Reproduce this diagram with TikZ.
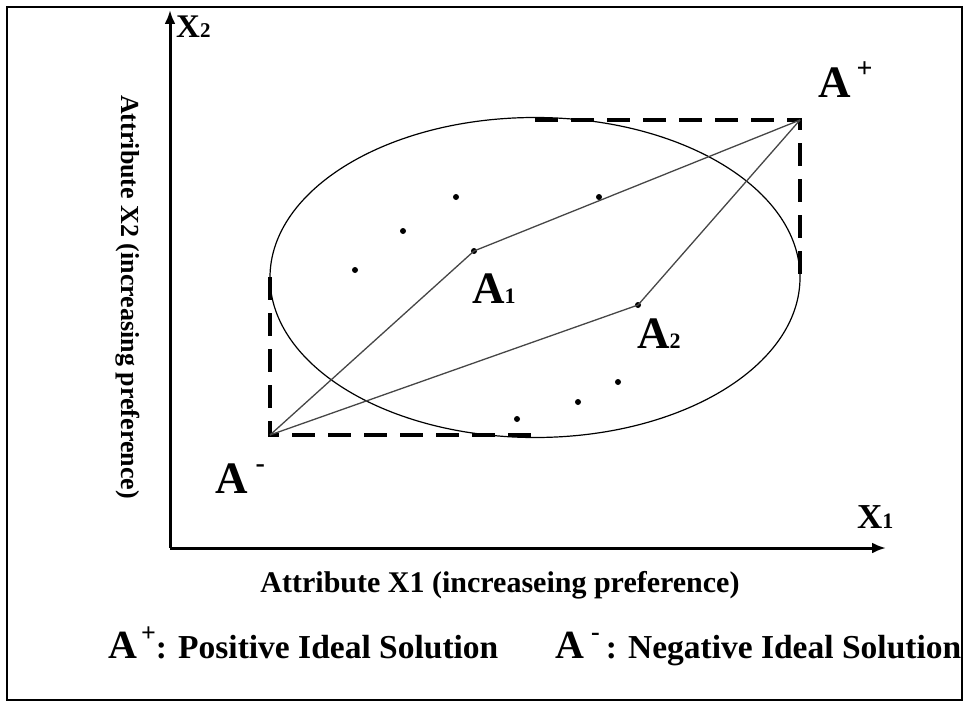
\documentclass[tikz,border=0pt]{standalone}
\usepackage{fontspec}
\setmainfont{Liberation Serif}
\usetikzlibrary{arrows.meta,positioning}

\begin{document}
\begin{tikzpicture}[x=1pt,y=-1pt,
    axis/.style={line width=3pt,-{Latex[length=14pt,width=11pt]}},
    frontier/.style={line width=4pt,dash pattern=on 23pt off 13pt,line join=miter},
    link/.style={gray!55!black,line width=1.3pt},
    alt/.style={circle,fill,inner sep=0pt,minimum size=6pt},
    biglab/.style={font=\fontsize{45}{45}\selectfont\bfseries,inner sep=0pt}]
  \useasboundingbox (0,0) rectangle (966,706);
  % Frame
  \draw[line width=1.5pt] (7,7) rectangle (962,700);
  % Axes
  \coordinate (origin) at (170,548);
  \coordinate (xend) at (886,548);
  \coordinate (yend) at (170,10);
  \draw[axis] (origin) -- (xend);
  \draw[axis] (origin) -- (yend);
  \node[anchor=base west,inner sep=0pt,font=\fontsize{35}{35}\selectfont\bfseries] (xlab) at (857,528) {X{\fontsize{22}{22}\selectfont 1}};
  \node[anchor=base west,inner sep=0pt,font=\fontsize{33}{33}\selectfont\bfseries] (ylab) at (176,38) {X{\fontsize{21}{21}\selectfont 2}};
  \node[anchor=base,inner sep=0pt,font=\fontsize{30}{30}\selectfont\bfseries] (xtitle) at (500,592) {Attribute X1 (increaseing preference)};
  \node[rotate=-90,inner sep=0pt,font=\fontsize{26}{26}\selectfont\bfseries] (ytitle) at (128,297) {Attribute X2 (increasing preference)};
  % Ideal points and alternatives
  \coordinate (Aminus) at (270,435);
  \coordinate (Aplus) at (800,120);
  \node[alt] (a1) at (474,251) {};
  \node[alt] (a2) at (638,305) {};
  % Ellipse of alternatives
  \draw[line width=1.2pt] (535,277.5) ellipse [x radius=265pt, y radius=160pt];
  % Dashed bounding corners
  \draw[frontier] (270,277) -- (Aminus) -- (535,435);
  \draw[frontier] (535,120) -- (Aplus) -- (800,277);
  % Distances
  \draw[link] (Aminus) -- (a1.center) -- (Aplus);
  \draw[link] (Aminus) -- (a2.center) -- (Aplus);
  % Other alternatives
  \foreach \px/\py in {355/270, 403/231, 456/197, 599/197, 517/419, 578/402, 618/382}
    \fill (\px,\py) circle (3pt);
  % Labels
  \node[biglab,anchor=base west] (a1lab) at (472,303) {A{\fontsize{22}{22}\selectfont 1}};
  \node[biglab,anchor=base west] (a2lab) at (637,348) {A{\fontsize{22}{22}\selectfont 2}};
  \node[biglab,anchor=base west] (apluslab) at (818,98) {A\hspace{6pt}\raisebox{20pt}{\fontsize{28}{28}\selectfont +}};
  \node[biglab,anchor=base west] (aminuslab) at (215,493) {A\hspace{8pt}\raisebox{21pt}{\fontsize{28}{28}\selectfont -}};
  % Legend
  \node[anchor=base west,inner sep=0pt,font=\fontsize{33.5}{34}\selectfont\bfseries] (legplus) at (108,658)
    {{\fontsize{40}{40}\selectfont A}\hspace{4pt}\raisebox{17pt}{\fontsize{26}{26}\selectfont +}: Positive Ideal Solution};
  \node[anchor=base west,inner sep=0pt,font=\fontsize{33.5}{34}\selectfont\bfseries] (legminus) at (555,658)
    {{\fontsize{40}{40}\selectfont A}\hspace{7pt}\raisebox{18pt}{\fontsize{26}{26}\selectfont -}\hspace{6pt}: Negative Ideal Solution};
\end{tikzpicture}
\end{document}
